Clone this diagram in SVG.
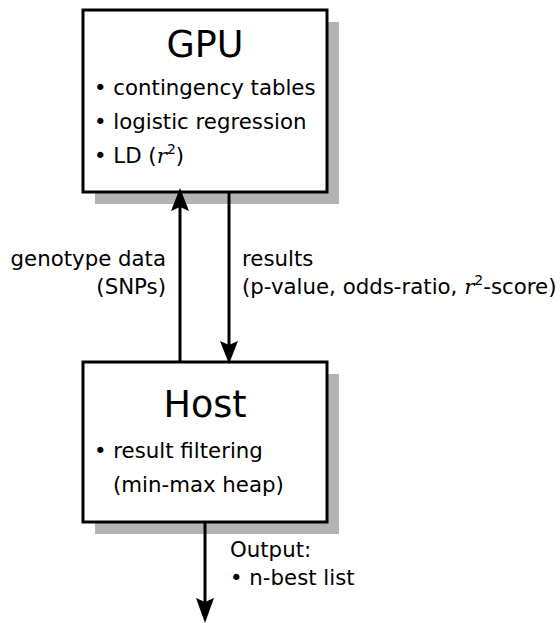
<svg xmlns="http://www.w3.org/2000/svg" width="560" height="623" viewBox="0 0 560 623">
<defs>
<style>
.box{fill:#fff;stroke:#000;stroke-width:3}
.shadow{fill:#b3b3b3}
.t{font-family:"DejaVu Sans",sans-serif;fill:#000}
.title{font-size:36.5px;text-anchor:middle}
.item{font-size:21.3px}
.lbl{font-size:21.3px}
.m{font-family:"DejaVu Serif","Liberation Serif",serif;font-style:italic}
.conn{stroke:#000;stroke-width:3;fill:none}
.head{fill:#000}
</style>
</defs>
<rect width="560" height="623" fill="#fff"/>
<g id="gpu">
<rect class="shadow" x="95" y="22" width="244" height="182"/>
<rect class="box" x="83" y="10" width="244" height="182"/>
<text class="t title" x="205" y="57">GPU</text>
<text class="t item" x="94" y="95">• contingency tables</text>
<text class="t item" x="94" y="129">• logistic regression</text>
<text class="t item" x="94" y="163">• LD (<tspan class="m">r</tspan><tspan font-size="14" dy="-9">2</tspan><tspan dy="9">)</tspan></text>
</g>
<g id="host">
<rect class="shadow" x="95" y="374" width="244" height="160"/>
<rect class="box" x="83" y="362" width="244" height="160"/>
<text class="t title" x="205" y="417">Host</text>
<text class="t item" x="94" y="458">• result filtering</text>
<text class="t item" x="113" y="492">(min-max heap)</text>
</g>
<g id="connectors">
<path class="conn" d="M180,362 V205"/>
<path class="head" d="M180,188 L171,211 L180,207 L189,211 z"/>
<path class="conn" d="M229,192 V348"/>
<path class="head" d="M229,364 L220,341 L229,345 L238,341 z"/>
<path class="conn" d="M205,522 V605"/>
<path class="head" d="M205,623 L196,598 L205,602 L214,598 z"/>
</g>
<g id="labels">
<text class="t lbl" x="166" y="266" text-anchor="end">genotype data</text>
<text class="t lbl" x="166" y="294" text-anchor="end">(SNPs)</text>
<text class="t lbl" x="242" y="266">results</text>
<text class="t lbl" x="242" y="294">(p-value, odds-ratio, <tspan class="m">r</tspan><tspan font-size="14" dy="-9">2</tspan><tspan dy="9">-score)</tspan></text>
<text class="t lbl" x="230" y="557">Output:</text>
<text class="t lbl" x="230" y="585">• n-best list</text>
</g>
</svg>
